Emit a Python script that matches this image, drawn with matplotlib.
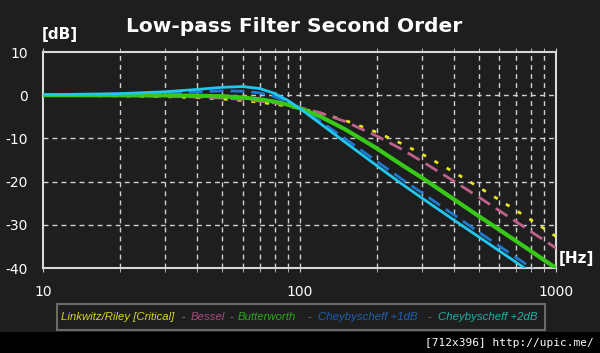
import numpy as np
import matplotlib
matplotlib.use("Agg")
import matplotlib.pyplot as plt
from matplotlib.patches import Rectangle
from matplotlib.ticker import FixedLocator, NullFormatter

plt.rcParams['axes.unicode_minus'] = False

# frequency points [Hz] and responses [dB]
freq = [10, 20, 30, 40, 50, 60, 70, 80, 90, 100, 120, 150, 200, 250, 300,
        400, 500, 600, 700, 800, 900, 1000]
linkwitz = [-0.04, -0.15, -0.32, -0.57, -0.87, -1.23, -1.63, -2.08, -2.55, -3.06,
            -4.12, -5.8, -8.58, -11.2, -13.6, -17.8, -21.3, -24.2, -26.7, -28.9, -30.9, -32.7]
bessel = [-0.03, -0.1, -0.23, -0.42, -0.67, -0.98, -1.36, -1.8, -2.29, -2.84,
          -4.05, -6.05, -9.43, -12.5, -15.3, -19.9, -23.6, -26.7, -29.3, -31.6, -33.6, -35.4]
butterworth = [0.0, -0.01, -0.04, -0.11, -0.26, -0.53, -0.94, -1.49, -2.19, -3.01,
               -4.88, -7.83, -12.3, -16.1, -19.1, -24.1, -28.0, -31.1, -33.8, -36.1, -38.2, -40.0]
cheb1 = [0.06, 0.23, 0.49, 0.78, 0.98, 0.94, 0.52, -0.35, -1.58, -3.0,
         -5.98, -10.0, -15.3, -19.4, -22.6, -27.7, -31.7, -34.9, -37.6, -39.9, -42.0, -43.8]
cheb2 = [0.09, 0.37, 0.8, 1.34, 1.82, 2.0, 1.55, 0.4, -1.22, -3.01,
         -6.48, -10.8, -16.3, -20.5, -23.8, -28.9, -32.8, -36.0, -38.7, -41.1, -43.2, -45.0]

legend_items = ["Linkwitz/Riley [Critical]", "Bessel", "Butterworth",
                "Cheybyscheff +1dB", "Cheybyscheff +2dB"]

bg = '#1e1e1e'
W, H = 600, 353

def fx(x):
    return x / W

def fy(y):
    return 1 - y / H

fig = plt.figure(figsize=(6, 3.53), dpi=100, facecolor=bg)
ax = fig.add_axes([fx(43), fy(268), fx(556) - fx(43), fy(52) - fy(268)])
ax.set_facecolor(bg)

ax.plot(freq, linkwitz, color='#e6e620', lw=2, dashes=(1.5, 3.5), zorder=3)
ax.plot(freq, bessel, color='#c0608c', lw=2, dashes=(5, 2.5), zorder=3)
ax.plot(freq, cheb1, color='#2078d0', lw=2, dashes=(5, 2.5), zorder=3)
ax.plot(freq, butterworth, color='#38c818', lw=3, zorder=4)
ax.plot(freq, cheb2, color='#20c8f0', lw=2, zorder=5)

ax.set_xscale('log')
ax.set_xlim(10, 1000)
ax.set_ylim(-40, 10)
ax.set_yticks([10, 0, -10, -20, -30, -40])
ax.set_xticks([10, 100, 1000])
ax.set_xticklabels(['10', '100', '1000'])
minor = [20, 30, 40, 50, 60, 70, 80, 90, 200, 300, 400, 500, 600, 700, 800, 900]
ax.xaxis.set_minor_locator(FixedLocator(minor))
ax.xaxis.set_minor_formatter(NullFormatter())

for f in minor + [100]:
    ax.axvline(f, color='#d0d0d0', lw=1, dashes=(3.5, 3), zorder=1)
for v in [0, -10, -20, -30]:
    ax.axhline(v, color='#d0d0d0', lw=1, dashes=(3.5, 3), zorder=1)

ax.tick_params(axis='y', length=0, pad=11, labelsize=10, labelcolor='white')
ax.tick_params(axis='x', which='both', direction='out', length=3, color='#d0d0d0',
               top=True, pad=9, labelsize=10, labelcolor='white')
for s in ax.spines.values():
    s.set_color('#d8d8d8')
    s.set_linewidth(1.5)

fig.text(fx(294), fy(27), "Low-pass Filter Second Order", color='white',
         fontsize=14.5, fontweight='bold', ha='center', va='center')
fig.text(fx(42), fy(34), "[dB]", color='white', fontsize=11, fontweight='bold',
         ha='left', va='center')
fig.text(fx(559), fy(259), "[Hz]", color='white', fontsize=11, fontweight='bold',
         ha='left', va='center')

# legend strip
fig.patches.append(Rectangle((fx(57), fy(330)), fx(545) - fx(57), fy(304) - fy(330),
                             transform=fig.transFigure, facecolor=bg,
                             edgecolor='#6a6a6a', lw=1.5))
leg_colors = ['#d8d820', '#a84c80', '#28a818', '#2060b0', '#20b0a8']
leg_x = [61, 191, 238, 318, 438]
dash_x = [183, 231, 309, 429]
for name, c, x in zip(legend_items, leg_colors, leg_x):
    fig.text(fx(x), fy(317), name, color=c, fontsize=8.2, style='italic',
             family='Liberation Sans', ha='left', va='center')
for x in dash_x:
    fig.text(fx(x), fy(317), "-", color='#808080', fontsize=8.2,
             family='Liberation Sans', ha='center', va='center')

# bottom watermark strip
fig.patches.append(Rectangle((0, 0), 1, fy(332), transform=fig.transFigure,
                             facecolor='black', edgecolor='none'))
fig.text(fx(594), fy(343), "[712x396] http://upic.me/", color='white', fontsize=8,
         family='DejaVu Sans Mono', ha='right', va='center')

fig.savefig("out.png", dpi=100, facecolor=bg)
